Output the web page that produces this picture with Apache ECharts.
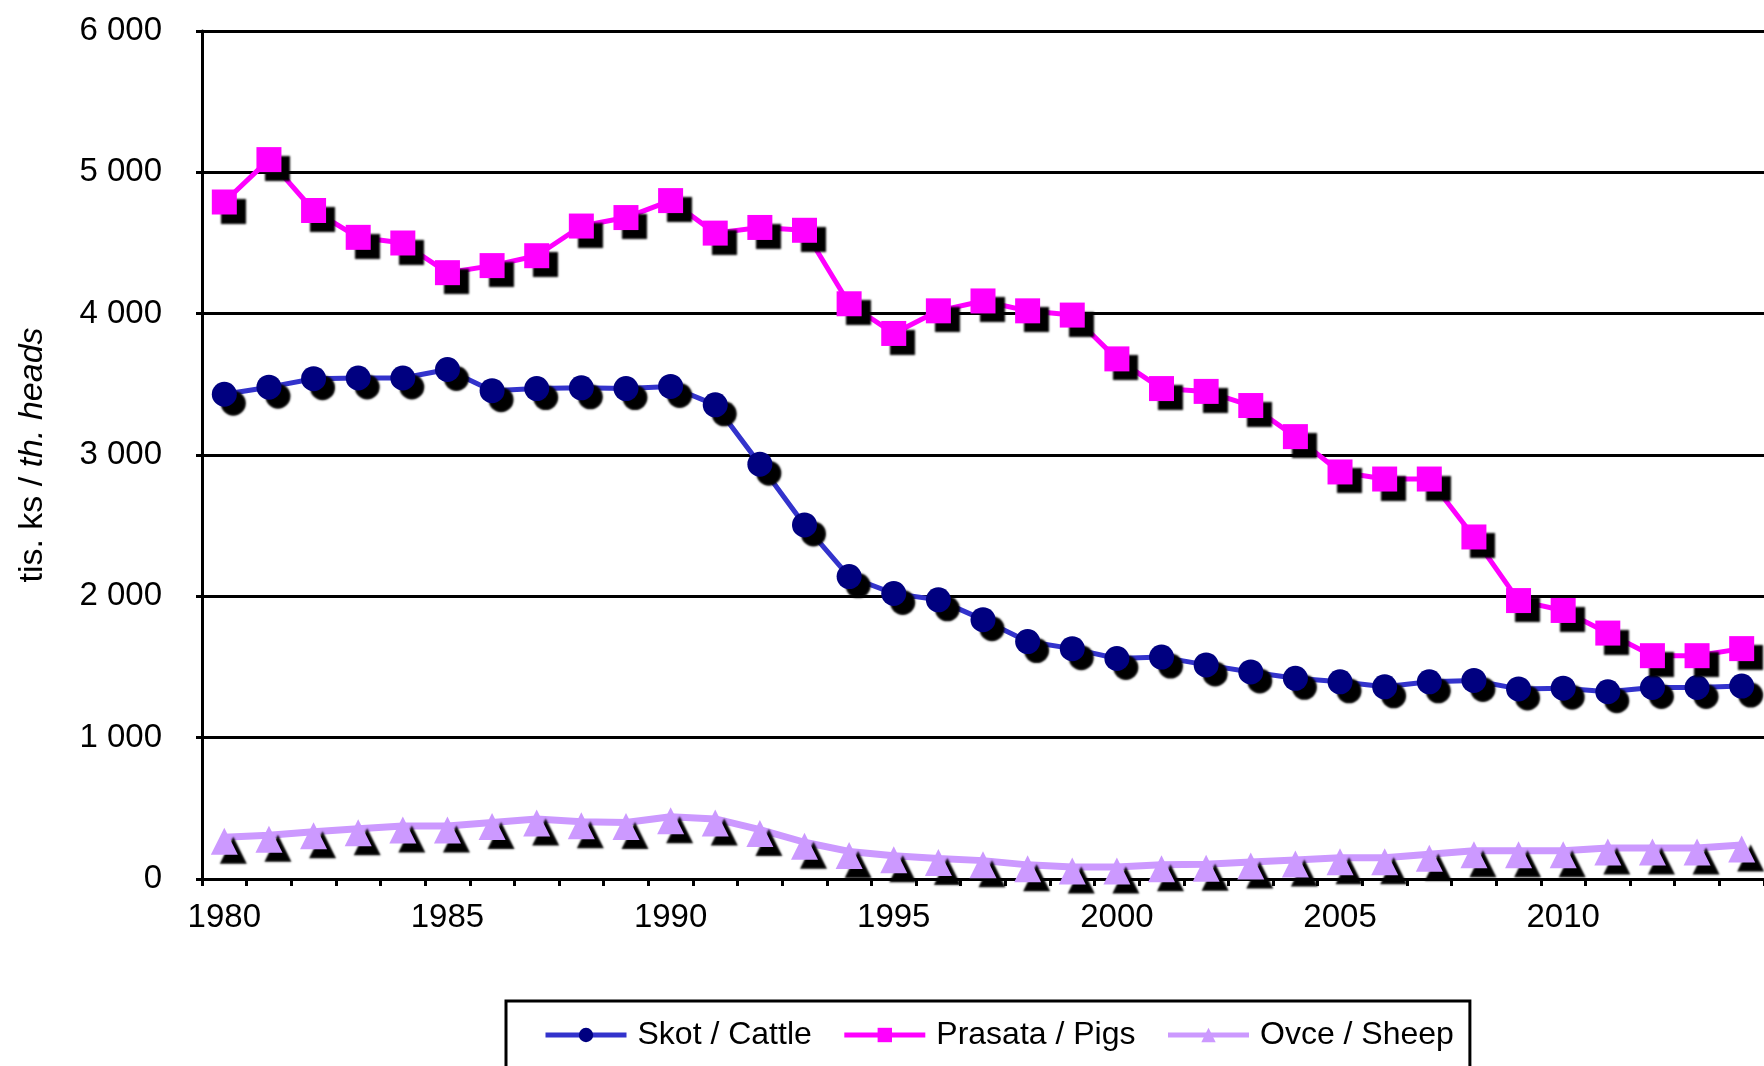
<!DOCTYPE html>
<html>
<head>
<meta charset="utf-8">
<script src="https://cdn.jsdelivr.net/npm/echarts@6/dist/echarts.min.js"></script>
<style>
  html, body { margin: 0; padding: 0; background: #fff; }
  #chart { width: 1764px; height: 1066px; }
</style>
</head>
<body>
<div id="chart"></div>
<script>
// roky
var years = ['1980', '1981', '1982', '1983', '1984', '1985', '1986', '1987', '1988', '1989',
  '1990', '1991', '1992', '1993', '1994', '1995', '1996', '1997', '1998', '1999',
  '2000', '2001', '2002', '2003', '2004', '2005', '2006', '2007', '2008', '2009',
  '2010', '2011', '2012', '2013', '2014'];

// tis. ks
var cattle = [3430, 3480, 3540, 3545, 3545, 3605, 3455, 3470, 3475, 3470,
  3485, 3355, 2935, 2505, 2140, 2020, 1975, 1835, 1680, 1630,
  1560, 1570, 1515, 1465, 1420, 1395, 1360, 1395, 1405, 1345,
  1350, 1325, 1355, 1355, 1365];
var pigs = [4790, 5090, 4730, 4540, 4500, 4290, 4340, 4410, 4620, 4680,
  4800, 4570, 4610, 4590, 4070, 3860, 4020, 4090, 4020, 3990,
  3680, 3470, 3450, 3350, 3130, 2880, 2830, 2830, 2420, 1970,
  1900, 1740, 1580, 1580, 1630];
var sheep = [295, 310, 335, 355, 375, 375, 400, 425, 405, 400,
  440, 425, 350, 260, 195, 165, 145, 130, 100, 85,
  85, 100, 105, 120, 135, 150, 150, 175, 200, 200,
  200, 220, 220, 220, 240];

var seriesNames = ['Skot / Cattle', 'Prasata / Pigs', 'Ovce / Sheep'];

var font = 'Liberation Sans, Arial, sans-serif';

function shadowed(color) {      // cerny stin pod znackou
  return {
    color: color,
    shadowColor: '#000',
    shadowBlur: 2,
    shadowOffsetX: 9,
    shadowOffsetY: 9
  };
}

var myChart = echarts.init(document.getElementById('chart'));
var option = {
  animation: false,
  backgroundColor: '#fff',
  textStyle: { fontFamily: font, color: '#000' },
  grid: { left: 202, top: 31, right: 0, bottom: 187, containLabel: false },
  legend: {
    data: seriesNames,
    left: 506,
    top: 1001,
    padding: [18, 16, 40, 37],
    itemGap: 30,
    itemWidth: 81,
    itemHeight: 18,
    borderColor: '#000',
    borderWidth: 3,
    lineStyle: { width: 5 },
    textStyle: { fontSize: 32, color: '#000', fontFamily: font, padding: [0, 0, 0, 6] }
  },
  xAxis: {
    type: 'category',
    data: years,
    boundaryGap: true,
    axisLine: { lineStyle: { color: '#000', width: 3 } },
    axisTick: { show: true, interval: 0, length: 7, lineStyle: { color: '#000', width: 3 } },
    axisLabel: { interval: 4, margin: 22, fontSize: 33, color: '#000', fontFamily: font },
    splitLine: { show: false }
  },
  yAxis: {
    type: 'value',
    min: 0,
    max: 6000,
    interval: 1000,
    name: '{a|tis. ks / }{b|th. heads}',
    nameLocation: 'middle',
    nameRotate: 90,
    nameGap: 152,
    nameTextStyle: {
      rich: {
        a: { fontSize: 34, color: '#000', fontFamily: font },
        b: { fontSize: 34, color: '#000', fontFamily: font, fontStyle: 'italic' }
      }
    },
    axisLine: { show: true, lineStyle: { color: '#000', width: 3 } },
    axisTick: { show: true, length: 6, lineStyle: { color: '#000', width: 3 } },
    axisLabel: {
      margin: 40,
      fontSize: 33,
      color: '#000',
      fontFamily: font,
      formatter: function (v) {
        return String(v).replace(/\B(?=(\d{3})+(?!\d))/g, ' ');
      }
    },
    splitLine: { lineStyle: { color: '#000', width: 3 } }
  },
  series: [
    {
      name: seriesNames[0],
      type: 'line',
      data: cattle,
      symbol: 'circle',
      symbolSize: 25,
      clip: false,
      lineStyle: { color: '#3333cc', width: 5 },
      itemStyle: shadowed('#000080')
    },
    {
      name: seriesNames[1],
      type: 'line',
      data: pigs,
      symbol: 'rect',
      symbolSize: 25,
      clip: false,
      lineStyle: { color: '#ff00ff', width: 5 },
      itemStyle: shadowed('#ff00ff')
    },
    {
      name: seriesNames[2],
      type: 'line',
      data: sheep,
      symbol: 'triangle',
      symbolSize: 27,
      symbolOffset: [0, 4],
      clip: false,
      lineStyle: { color: '#cc99ff', width: 7 },
      itemStyle: shadowed('#cc99ff')
    }
  ]
};
myChart.setOption(option);
</script>
</body>
</html>
